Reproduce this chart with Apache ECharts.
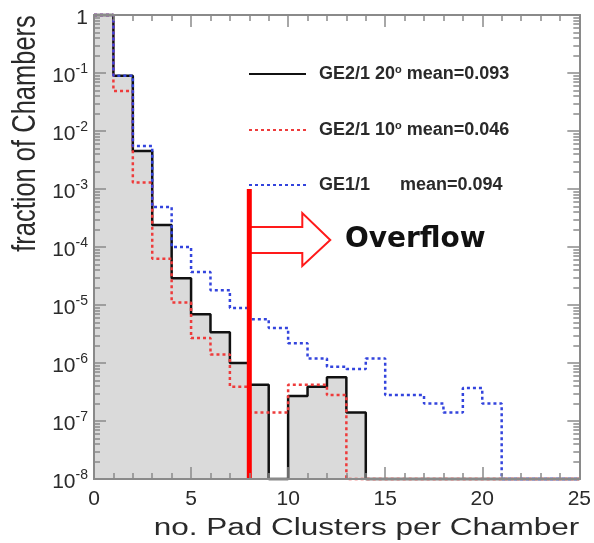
<!DOCTYPE html>
<html>
<head>
<meta charset="utf-8">
<script src="https://cdn.jsdelivr.net/npm/echarts@6/dist/echarts.min.js"></script>
<style>html,body{margin:0;padding:0;background:#fff}#c{width:594px;height:543px}</style>
</head>
<body>
<div id="c"></div>
<script>
// ---- data ----
const binLow = [0,1,2,3,4,5,6,7,8,9,10,11,12,13,14,15,16,17,18,19,20,21,22,23,24];
const ge21_20deg = [1, 0.09, 4.5e-3, 2.4e-4, 2.9e-5, 6.9e-6, 3.4e-6, 1.0e-6, 4.2e-7, 0, 2.7e-7, 3.9e-7, 5.7e-7, 1.4e-7, 0,0,0,0,0,0,0,0,0,0,0];
const ge21_10deg = [1, 0.049, 1.3e-3, 6.3e-5, 1.1e-5, 2.7e-6, 1.4e-6, 3.9e-7, 1.4e-7, 1.4e-7, 4.2e-7, 4.2e-7, 2.8e-7, 0, 0,0,0,0,0,0,0,0,0,0,0];
const ge11 = [1, 0.09, 5.5e-3, 4.9e-4, 1.0e-4, 3.7e-5, 1.8e-5, 8.9e-6, 5.7e-6, 4.0e-6, 2.2e-6, 1.2e-6, 8.6e-7, 7.9e-7, 1.2e-6, 2.8e-7, 2.8e-7, 2.0e-7, 1.4e-7, 3.7e-7, 2.0e-7, 0,0,0,0];
const seriesNames = ['GE2/1 20', 'GE2/1 10', 'GE1/1'];
const legendLabels = ['{t|GE2/1 20}{s|o}{t| mean=0.093}', '{t|GE2/1 10}{s|o}{t| mean=0.046}', '{t|GE1/1      mean=0.094}'];
const xTicks = [0,5,10,15,20,25];
const yDecades = [1e-8,1e-7,1e-6,1e-5,1e-4,1e-3,1e-2,1e-1,1];
const overflowCut = 8;
const overflowLine = [[8, 1e-3], [8, 1e-8]];
const arrowPts = [[8, 2.21e-4], [10.73, 2.21e-4], [10.73, 3.85e-4], [12.17, 1.32e-4], [10.73, 4.7e-5], [10.73, 7.9e-5], [8, 7.9e-5]];
const xTitle = 'no. Pad Clusters per Chamber';
const yTitle = 'fraction of Chambers';
const overflowText = 'Overflow';

const yMin = 1e-8, yMax = 1;
const yMinor = [];
yDecades.slice(0, -1).forEach(d => { for (let k = 2; k <= 9; k++) yMinor.push(d * k); });

function histData(vals) {
  const pts = vals.map((v, i) => [binLow[i], Math.max(v, yMin)]);
  pts.push([binLow[binLow.length - 1] + 1, Math.max(vals[vals.length - 1], yMin)]);
  return pts;
}

const frame = '#8a8a8a';
const txt = '#2a2a2a';
function yFmt(v) {
  const e = Math.round(Math.log10(v));
  if (e === 0) return '{b|1}';
  return '{b|10}{s|' + e + '}';
}
function mkY(pos, major, withLabel) {
  return {
    type: 'log', logBase: 10, min: yMin, max: yMax, position: pos, z: 10,
    axisLine: { show: true, lineStyle: { color: frame, width: 2 } },
    axisTick: { show: true, inside: true, length: major ? 12 : 6, customValues: major ? yDecades : yMinor, lineStyle: { color: frame, width: 1.5 } },
    minorTick: { show: false },
    splitLine: { show: false },
    axisLabel: withLabel ? {
      show: true, customValues: yDecades, formatter: yFmt, margin: 6,
      rich: {
        b: { fontSize: 21, fontFamily: 'Liberation Sans', color: txt, lineHeight: 22, padding: [6, 0, 0, 0] },
        s: { fontSize: 14, fontFamily: 'Liberation Sans', color: txt, verticalAlign: 'top', lineHeight: 14 }
      }
    } : { show: false }
  };
}
function mkX(pos, withLabel) {
  return {
    type: 'value', min: 0, max: 25, interval: 5, position: pos, z: 10,
    axisLine: { show: true, onZero: false, lineStyle: { color: frame, width: 2 } },
    axisTick: { show: true, inside: true, length: 12, lineStyle: { color: frame, width: 1.5 } },
    minorTick: { show: true, splitNumber: 5, length: 6, lineStyle: { color: frame, width: 1.5 } },
    splitLine: { show: false },
    axisLabel: withLabel ? { show: true, fontSize: 21, fontFamily: 'Liberation Sans', color: txt, margin: 10 } : { show: false }
  };
}

const chart = echarts.init(document.getElementById('c'), null, { renderer: 'canvas' });
chart.setOption({
  animation: false,
  backgroundColor: '#fff',
  grid: { left: 94, right: 13, top: 15, bottom: 64 },
  xAxis: [mkX('bottom', true), mkX('top', false)],
  yAxis: [mkY('left', true, true), mkY('left', false, false), mkY('right', true, false), mkY('right', false, false)],
  legend: {
    data: seriesNames, orient: 'vertical', left: 248, top: 64, padding: 0,
    itemWidth: 57, itemHeight: 14, itemGap: 37,
    itemStyle: { opacity: 0 },
    formatter: function (name) { return legendLabels[seriesNames.indexOf(name)]; },
    textStyle: {
      padding: [0, 0, 0, 8],
      rich: {
        t: { fontSize: 18, fontWeight: 'bold', fontFamily: 'Liberation Sans', color: txt, lineHeight: 20 },
        s: { fontSize: 11, fontWeight: 'bold', fontFamily: 'Liberation Sans', color: txt, verticalAlign: 'top', lineHeight: 12 }
      }
    }
  },
  series: [
    {
      name: seriesNames[0], type: 'line', step: 'end', symbol: 'none', showSymbol: false, clip: false,
      data: histData(ge21_20deg),
      lineStyle: { color: '#111', width: 2.5 },
      itemStyle: { color: '#111' },
      areaStyle: { color: '#dadada', opacity: 1, origin: 'start' }
    },
    {
      name: seriesNames[1], type: 'line', step: 'end', symbol: 'none', showSymbol: false, clip: false,
      data: histData(ge21_10deg),
      lineStyle: { color: '#ee3b3b', width: 2.5, type: [3, 3] },
      itemStyle: { color: '#ee3b3b' }
    },
    {
      name: seriesNames[2], type: 'line', step: 'end', symbol: 'none', showSymbol: false, clip: false,
      data: histData(ge11),
      lineStyle: { color: '#3344dd', width: 2.5, type: [3, 3] },
      itemStyle: { color: '#3344dd' }
    },
    {
      name: 'arrow', type: 'custom', clip: false, data: [0],
      renderItem: function (params, api) {
        const pts = arrowPts.map(p => api.coord(p));
        return { type: 'polygon', shape: { points: pts }, style: { fill: '#fff', stroke: '#ff1a1a', lineWidth: 2 } };
      }
    },
    {
      name: 'cut', type: 'line', symbol: 'none', showSymbol: false, clip: false,
      data: overflowLine,
      lineStyle: { color: '#ff0000', width: 5 }
    }
  ],
  graphic: [
    { type: 'text', x: 345, y: 240, style: { text: overflowText, font: 'bold 28px "DejaVu Sans"', fill: '#111', verticalAlign: 'middle', align: 'left' } },
    { type: 'text', x: 366.5, y: 529, scaleX: 1.37, style: { text: xTitle, font: '23px "Liberation Sans"', fill: txt, verticalAlign: 'middle', align: 'center' } },
    { type: 'text', x: 26, y: 133.5, rotation: Math.PI / 2, scaleY: 1.3, style: { text: yTitle, font: '25.5px "Liberation Sans"', fill: txt, verticalAlign: 'middle', align: 'center' } }
  ]
});
</script>
</body>
</html>
